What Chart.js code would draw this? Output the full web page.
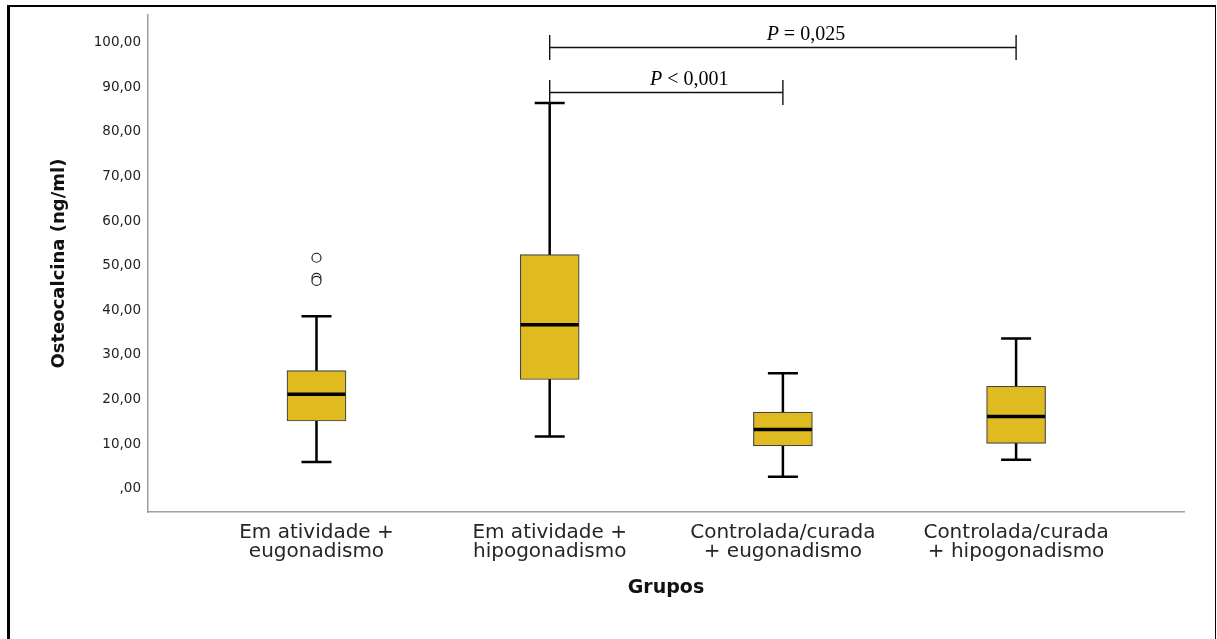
<!DOCTYPE html>
<html lang="pt">
<head>
<meta charset="UTF-8">
<title>Osteocalcina por grupo</title>
<script src="https://cdn.jsdelivr.net/npm/chart.js"></script>
<style>
  body { margin: 0; background: #fff; }
  #wrap { position: relative; width: 1217px; height: 639px; overflow: hidden; }
  #frame {
    position: absolute; left: 7px; top: 5px; width: 1205px; height: 700px;
    border-left: 3px solid #000; border-top: 2px solid #000; border-right: 1px solid #000;
    pointer-events: none;
  }
</style>
</head>
<body>
<div id="wrap">
  <canvas id="boxChart"></canvas>
  <div id="frame"></div>
</div>
<script>
// groups (x axis categories)
const groups = [
  ["Em atividade +", "eugonadismo"],
  ["Em atividade +", "hipogonadismo"],
  ["Controlada/curada", "+ eugonadismo"],
  ["Controlada/curada", "+ hipogonadismo"]
];
// box plot values (ng/ml)
const whiskerLow  = [6.0, 11.7, 2.7, 6.5];
const q1          = [15.2, 24.5, 9.6, 10.2];
const median      = [21.2, 36.8, 13.3, 16.2];
const q3          = [26.5, 52.5, 17.2, 23.0];
const whiskerHigh = [38.7, 86.5, 25.9, 33.7];
// outliers: group index (1-based) and value
const outlierGroup = [1, 1, 1];
const outlierValue = [51.8, 47.3, 46.6];
// y axis ticks
const yTicks = [0, 10, 20, 30, 40, 50, 60, 70, 80, 90, 100];
// comparison brackets
const compFrom  = [2, 2];
const compTo    = [4, 3];
const compLevel = [99.1, 89.0];
const compSign  = [" = 0,025", " < 0,001"];

const boxColor = "rgb(223,187,32)";

function fmtTick(v) {
  if (v === 0) return ",00";
  return v.toFixed(2).replace(".", ",");
}

const boxExtras = {
  id: "boxExtras",
  beforeDatasetsDraw(chart) {
    const { ctx, scales: { x, y } } = chart;
    ctx.save();
    ctx.strokeStyle = "#000";
    ctx.lineWidth = 2.5;
    groups.forEach((g, i) => {
      const px = x.getPixelForValue(i + 1);
      const top = y.getPixelForValue(whiskerHigh[i]);
      const bot = y.getPixelForValue(whiskerLow[i]);
      ctx.beginPath();
      ctx.moveTo(px, top);
      ctx.lineTo(px, bot);
      ctx.moveTo(px - 15, top);
      ctx.lineTo(px + 15, top);
      ctx.moveTo(px - 15, bot);
      ctx.lineTo(px + 15, bot);
      ctx.stroke();
    });
    ctx.restore();
  },
  afterDatasetsDraw(chart) {
    const { ctx, scales: { x, y } } = chart;
    ctx.save();
    // medians
    ctx.strokeStyle = "#000";
    ctx.lineWidth = 3.5;
    groups.forEach((g, i) => {
      const px = x.getPixelForValue(i + 1);
      const py = y.getPixelForValue(median[i]);
      ctx.beginPath();
      ctx.moveTo(px - 29, py);
      ctx.lineTo(px + 29, py);
      ctx.stroke();
    });
    // significance brackets
    ctx.strokeStyle = "#111";
    ctx.lineWidth = 1.4;
    ctx.fillStyle = "#000";
    ctx.textBaseline = "alphabetic";
    compFrom.forEach((f, i) => {
      const x1 = x.getPixelForValue(f);
      const x2 = x.getPixelForValue(compTo[i]);
      const py = Math.round(y.getPixelForValue(compLevel[i])) + 0.5;
      ctx.beginPath();
      ctx.moveTo(x1, py);
      ctx.lineTo(x2, py);
      ctx.moveTo(x1, py - 12.5);
      ctx.lineTo(x1, py + 12.5);
      ctx.moveTo(x2, py - 12.5);
      ctx.lineTo(x2, py + 12.5);
      ctx.stroke();

      ctx.font = 'italic 20px "Liberation Serif"';
      const wP = ctx.measureText("P").width;
      ctx.font = '20px "Liberation Serif"';
      const wR = ctx.measureText(compSign[i]).width;
      const start = (x1 + x2) / 2 + 23 - (wP + wR) / 2;
      ctx.font = 'italic 20px "Liberation Serif"';
      ctx.fillText("P", start, py - 8);
      ctx.font = '20px "Liberation Serif"';
      ctx.fillText(compSign[i], start + wP, py - 8);
    });
    ctx.restore();
  }
};

new Chart(document.getElementById("boxChart"), {
  type: "bar",
  data: {
    datasets: [
      {
        label: "Osteocalcina",
        data: groups.map((g, i) => ({ x: i + 1, y: [q1[i], q3[i]] })),
        backgroundColor: boxColor,
        borderColor: "#444",
        borderWidth: 1.2,
        borderSkipped: false,
        barThickness: 59
      },
      {
        type: "scatter",
        label: "Outliers",
        data: outlierValue.map((v, i) => ({ x: outlierGroup[i], y: v })),
        pointStyle: "circle",
        pointRadius: 4.5,
        backgroundColor: "#fff",
        borderColor: "#222",
        borderWidth: 1.2
      }
    ]
  },
  options: {
    responsive: true,
    maintainAspectRatio: false,
    animation: false,
    layout: { padding: { left: 0, top: 15, right: 33, bottom: 0 } },
    plugins: {
      legend: { display: false },
      tooltip: { enabled: false }
    },
    scales: {
      x: {
        type: "linear",
        min: 0.2775,
        max: 4.72,
        offset: false,
        afterBuildTicks: s => { s.ticks = groups.map((g, i) => ({ value: i + 1 })); },
        afterFit: s => { s.height = 127; },
        grid: { display: false, drawTicks: false, offset: false },
        border: { display: true, color: "#a0a0a0", width: 1.5 },
        ticks: {
          autoSkip: false,
          maxRotation: 0,
          minRotation: 0,
          padding: 11,
          color: "#262626",
          font: { family: "DejaVu Sans", size: 20, lineHeight: "19px" },
          callback: v => groups[Math.round(v) - 1]
        },
        title: {
          display: true,
          text: "Grupos",
          color: "#111",
          padding: { top: 0, bottom: 40 },
          font: { family: "DejaVu Sans", size: 19, weight: "bold" }
        }
      },
      y: {
        type: "linear",
        min: -5.2,
        max: 106.2,
        afterBuildTicks: s => { s.ticks = yTicks.map(v => ({ value: v })); },
        afterFit: s => { s.width = 148; },
        grid: { display: false, drawTicks: false },
        border: { display: true, color: "#a0a0a0", width: 1.5 },
        ticks: {
          padding: 7,
          color: "#222",
          font: { family: "DejaVu Sans", size: 13.5 },
          callback: v => fmtTick(v)
        },
        title: {
          display: true,
          text: "Osteocalcina (ng/ml)",
          color: "#111",
          padding: { top: 49, bottom: 0 },
          font: { family: "DejaVu Sans", size: 18, weight: "bold" }
        }
      }
    }
  },
  plugins: [boxExtras]
});
</script>
</body>
</html>
